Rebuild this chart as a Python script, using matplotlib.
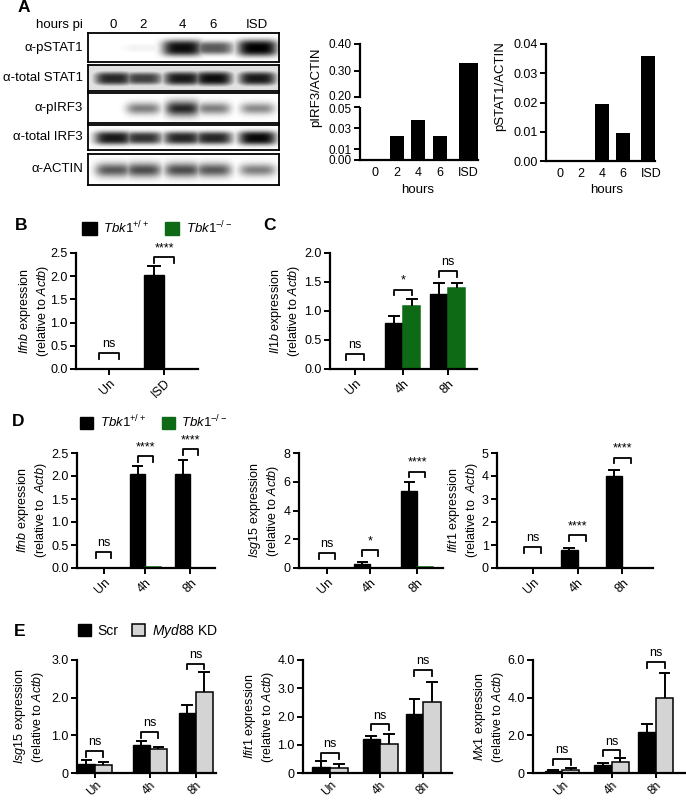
import numpy as np
import matplotlib
matplotlib.use('Agg')
import matplotlib.pyplot as plt
import matplotlib.transforms as mtransforms
from matplotlib import font_manager
from matplotlib.patches import Patch

# ---------------- data ----------------
# A: western blot, band strength per lane (0 = no band, 1 = saturated)
lanes = ['0', '2', '4', '6', 'ISD']
blot_rows = ['α-pSTAT1', 'α-total STAT1', 'α-pIRF3', 'α-total IRF3', 'α-ACTIN']
band_pstat1 = [0.0, 0.05, 0.95, 0.65, 1.0]
band_stat1 = [0.85, 0.75, 0.9, 0.95, 0.9]
band_pirf3 = [0.0, 0.5, 0.85, 0.5, 0.45]
band_irf3 = [0.9, 0.8, 0.85, 0.85, 0.97]
band_actin = [0.65, 0.7, 0.7, 0.65, 0.5]

# A: quantification
hours = ['0', '2', '4', '6', 'ISD']
pirf3_actin = [0.0, 0.023, 0.038, 0.023, 0.33]
pstat1_actin = [0.0, 0.0003, 0.0195, 0.0096, 0.036]

# B: Ifnb, Tbk1+/+ vs Tbk1-/-
b_groups = ['Un', 'ISD']
b_wt = [0.0, 2.03]
b_wt_sem = [0.0, 0.19]
b_ko = [0.0, 0.0]
b_ko_sem = [0.0, 0.0]
b_sig = ['ns', '****']
b_sig_y = [0.35, 2.41]

# C: Il1b
c_groups = ['Un', '4h', '8h']
c_wt = [0.0, 0.80, 1.30]
c_wt_sem = [0.0, 0.12, 0.19]
c_ko = [0.0, 1.09, 1.39]
c_ko_sem = [0.0, 0.11, 0.09]
c_sig = ['ns', '*', 'ns']
c_sig_y = [0.26, 1.37, 1.69]

# D: Tbk1+/+ vs Tbk1-/-
d_groups = ['Un', '4h', '8h']
d_ifnb_wt = [0.0, 2.04, 2.05]
d_ifnb_wt_sem = [0.0, 0.18, 0.30]
d_ifnb_ko = [0.0, 0.012, 0.008]
d_ifnb_ko_sem = [0.0, 0.0, 0.0]
d_ifnb_sig = ['ns', '****', '****']
d_ifnb_sig_y = [0.35, 2.43, 2.58]

d_isg15_wt = [0.0, 0.28, 5.36]
d_isg15_wt_sem = [0.0, 0.12, 0.62]
d_isg15_ko = [0.0, 0.0, 0.08]
d_isg15_ko_sem = [0.0, 0.0, 0.0]
d_isg15_sig = ['ns', '*', '****']
d_isg15_sig_y = [1.04, 1.25, 6.7]

d_ifit1_wt = [0.0, 0.78, 3.98]
d_ifit1_wt_sem = [0.0, 0.11, 0.30]
d_ifit1_ko = [0.02, 0.01, 0.01]
d_ifit1_ko_sem = [0.0, 0.0, 0.0]
d_ifit1_sig = ['ns', '****', '****']
d_ifit1_sig_y = [0.9, 1.43, 4.8]

# E: Scr vs Myd88 KD
e_groups = ['Un', '4h', '8h']
e_isg15_scr = [0.23, 0.74, 1.60]
e_isg15_scr_sem = [0.11, 0.10, 0.20]
e_isg15_kd = [0.21, 0.63, 2.15]
e_isg15_kd_sem = [0.08, 0.05, 0.52]
e_isg15_sig_y = [0.58, 1.08, 2.9]

e_ifit1_scr = [0.20, 1.20, 2.10]
e_ifit1_scr_sem = [0.22, 0.12, 0.52]
e_ifit1_kd = [0.19, 1.02, 2.53]
e_ifit1_kd_sem = [0.12, 0.36, 0.70]
e_ifit1_sig_y = [0.7, 1.72, 3.65]

e_mx1_scr = [0.08, 0.45, 2.18]
e_mx1_scr_sem = [0.10, 0.10, 0.43]
e_mx1_kd = [0.15, 0.60, 4.00]
e_mx1_kd_sem = [0.10, 0.20, 1.30]
e_mx1_sig_y = [0.75, 1.2, 5.9]
e_sig = ['ns', 'ns', 'ns']

# ---------------- fonts ----------------
installed = {f.name for f in font_manager.fontManager.ttflist}
BASE = 'Liberation Sans' if 'Liberation Sans' in installed else 'DejaVu Sans'
NARROW = 'Liberation Sans Narrow' if 'Liberation Sans Narrow' in installed else BASE

plt.rcParams['font.family'] = [BASE, 'DejaVu Sans']
plt.rcParams['mathtext.fontset'] = 'custom'
plt.rcParams['mathtext.rm'] = BASE
plt.rcParams['mathtext.it'] = BASE + ':italic'
plt.rcParams['mathtext.bf'] = BASE + ':bold'

GREEN = '#0e6a14'
GREY = '#d4d4d4'
W, H = 686, 800

fig = plt.figure(figsize=(W / 100, H / 100), dpi=100)


def px_axes(l, t, r, b):
    # axes placed by pixel box (left, top, right, bottom)
    return fig.add_axes([l / W, 1 - b / H, (r - l) / W, (b - t) / H])


def ftext(x, y, s, **kw):
    return fig.text(x / W, 1 - y / H, s, **kw)


def style(ax, fs, fam):
    for s in ['top', 'right']:
        ax.spines[s].set_visible(False)
    for s in ['left', 'bottom']:
        ax.spines[s].set_linewidth(1.6)
    ax.tick_params(width=1.4, length=4, labelsize=fs, pad=2, labelfontfamily=fam)


def up_errors(ax, xs, means, sems, cap):
    for x, m, s in zip(xs, means, sems):
        if s > 0:
            ax.plot([x, x], [m, m + s], color='k', lw=1.4, solid_capstyle='butt')
            ax.plot([x - cap, x + cap], [m + s, m + s], color='k', lw=1.4)


def bracket(ax, x1, x2, top, leg, label, fs, fam):
    ax.plot([x1, x1, x2, x2], [top - leg, top, top, top - leg], color='k', lw=1.3,
            clip_on=False)
    ax.text((x1 + x2) / 2, top + leg * 0.5, label, ha='center', va='bottom',
            fontsize=fs, family=fam, clip_on=False)


def grouped_panel(box, pos, xlim, ylim, yticks, ylabels, groups, m1, s1, m2, s2,
                  c2, e2, sig, sig_y, ylab, ylab_x, fam, fs, xfs=None):
    ax = px_axes(*box)
    pos = np.asarray(pos, dtype=float)
    bw = 1.0
    ax.bar(pos - bw / 2, m1, bw, color='k', edgecolor='k', lw=1.0)
    ax.bar(pos + bw / 2, m2, bw, color=c2, edgecolor=e2, lw=1.1)
    up_errors(ax, pos - bw / 2, m1, s1, 0.28)
    up_errors(ax, pos + bw / 2, m2, s2, 0.28)
    leg = ylim[1] * 0.05
    for x, t, lab in zip(pos, sig_y, sig):
        bracket(ax, x - bw / 2, x + bw / 2, t, leg, lab, fs, fam)
    ax.set_xlim(xlim)
    ax.set_ylim(ylim)
    ax.set_yticks(yticks, ylabels)
    ax.set_xticks(pos, groups, rotation=45, ha='right', rotation_mode='anchor')
    style(ax, fs, fam)
    if xfs is not None:
        ax.tick_params(axis='x', labelsize=xfs, pad=1, length=3.5)
    ftext(ylab_x, (box[1] + box[3]) / 2, ylab, rotation=90, ha='center', va='center',
          fontsize=fs, family=fam, linespacing=1.1)
    return ax


def ylab2(gene, sep=' '):
    return r'$\it{' + gene + r'}$ expression' + '\n' + r'(relative to' + sep + r'$\it{Actb}$)'


def nudge(label, dy_px):
    label.set_transform(label.get_transform()
                        + mtransforms.ScaledTranslation(0, dy_px / 100, fig.dpi_scale_trans))


# ---------------- A: blot ----------------
blot_left, blot_right = 88, 279
row_boxes = [(33, 62), (65, 91), (93, 123), (125, 150), (154, 185)]
row_bands = [band_pstat1, band_stat1, band_pirf3, band_irf3, band_actin]
row_bg = [0.0, 0.12, 0.0, 0.0, 0.0]
row_soft = [3, 3, 2, 3, 2]
row_halfw = [20, 19, 17, 19, 18]
lane_px = [25, 55, 94, 125, 169]

for (top, bot), vals, bg, soft, hw, name in zip(row_boxes, row_bands, row_bg,
                                                 row_soft, row_halfw, blot_rows):
    ax = px_axes(blot_left, top, blot_right, bot)
    wpx, hpx = blot_right - blot_left, bot - top
    xx = np.arange(wpx)[None, :]
    yy = np.arange(hpx)[:, None]
    img = np.full((hpx, wpx), bg)
    for c, v in zip(lane_px, vals):
        hh = hpx * 0.2 * (0.6 + 0.8 * v)
        blob = v * np.exp(-np.abs((xx - c) / hw) ** 4) * np.exp(-np.abs((yy - hpx / 2) / hh) ** soft)
        img = np.maximum(img, blob)
    ax.imshow(img, cmap='gray_r', vmin=0, vmax=1, aspect='auto', interpolation='bilinear')
    ax.set_xticks([])
    ax.set_yticks([])
    for s in ax.spines.values():
        s.set_linewidth(1.3)
    ftext(83, (top + bot) / 2, name, ha='right', va='center', fontsize=9.5)

ftext(83, 25, 'hours pi', ha='right', va='center', fontsize=9.5)
for c, lab in zip(lane_px, lanes):
    ftext(blot_left + c, 25, lab, ha='center', va='center', fontsize=9.5)

# ---------------- A: pIRF3/ACTIN (broken axis) ----------------
a_pos = np.array([0.7, 1.7, 2.7, 3.7, 5.0])
a_w = [0.65, 0.65, 0.65, 0.65, 0.88]

ax_lo = px_axes(360, 107, 478, 160)
ax_hi = px_axes(360, 44, 478, 107)
for ax in (ax_lo, ax_hi):
    ax.bar(a_pos, pirf3_actin, a_w, color='k')
    ax.set_xlim(0, 5.45)
    style(ax, 9, BASE)
ax_lo.set_ylim(0, 0.05)
ax_lo.set_yticks([0.0, 0.01, 0.03, 0.05], ['0.00', '0.01', '0.03', '0.05'])
ax_lo.set_xticks(a_pos, hours)
ax_lo.tick_params(axis='x', length=0, pad=5)
ax_lo.tick_params(axis='y', labelsize=8.5)
ax_hi.set_ylim(0.1623, 0.40)
ax_hi.spines['left'].set_bounds(0.20, 0.40)
ax_hi.spines['bottom'].set_visible(False)
ax_hi.set_yticks([0.20, 0.30, 0.40], ['0.20', '0.30', '0.40'])
ax_hi.set_xticks([])
ax_hi.tick_params(axis='y', labelsize=8.5)
# keep the two labels at the break apart
nudge(ax_hi.get_yticklabels()[0], 2)
nudge(ax_lo.get_yticklabels()[-1], -2)
ftext(316, 87, 'pIRF3/ACTIN', rotation=90, ha='center', va='center', fontsize=9.5)
ftext(418, 190, 'hours', ha='center', va='center', fontsize=9.5)

# ---------------- A: pSTAT1/ACTIN ----------------
ax = px_axes(546, 44, 655, 161)
ax.bar(a_pos - 0.05, pstat1_actin, a_w, color='k')
ax.set_xlim(0, 5.15)
ax.set_ylim(0, 0.04)
ax.set_yticks([0, 0.01, 0.02, 0.03, 0.04], ['0.00', '0.01', '0.02', '0.03', '0.04'])
ax.set_xticks(a_pos - 0.05, hours)
style(ax, 9, BASE)
ax.tick_params(axis='x', length=0, pad=5)
ftext(500, 86, 'pSTAT1/ACTIN', rotation=90, ha='center', va='center', fontsize=9.5)
ftext(607, 190, 'hours', ha='center', va='center', fontsize=9.5)

# ---------------- B ----------------
grouped_panel((76, 253, 198, 369), [1.65, 4.4], (0, 6.1), (0, 2.5),
              [0, 0.5, 1.0, 1.5, 2.0, 2.5], ['0.0', '0.5', '1.0', '1.5', '2.0', '2.5'],
              b_groups, b_wt, b_wt_sem, b_ko, b_ko_sem, GREEN, GREEN,
              b_sig, b_sig_y, ylab2('Ifnb'), 34, BASE, 9)

# ---------------- C ----------------
grouped_panel((330, 253, 477, 369), [1.43, 4.17, 6.74], (0, 8.4), (0, 2.0),
              [0, 0.5, 1.0, 1.5, 2.0], ['0.0', '0.5', '1.0', '1.5', '2.0'],
              c_groups, c_wt, c_wt_sem, c_ko, c_ko_sem, GREEN, GREEN,
              c_sig, c_sig_y, ylab2('Il1b'), 285, BASE, 9)

legend_tbk = [Patch(facecolor='k', edgecolor='k'), Patch(facecolor=GREEN, edgecolor=GREEN)]
legend_tbk_labels = [r'$\it{Tbk1}^{+/+}$', r'$\it{Tbk1}^{-/-}$']
fig.legend(legend_tbk, legend_tbk_labels, loc='center left', bbox_to_anchor=(82 / W, 1 - 228 / H),
           ncol=2, frameon=False, fontsize=9.5, handlelength=1.1, handleheight=1.1,
           handletextpad=0.5, columnspacing=1.2, borderpad=0, borderaxespad=0)

# ---------------- D ----------------
d_fs = 9
grouped_panel((77, 453, 215, 568), [1.75, 4.45, 7.4], (0, 9.0), (0, 2.5),
              [0, 0.5, 1.0, 1.5, 2.0, 2.5], ['0.0', '0.5', '1.0', '1.5', '2.0', '2.5'],
              d_groups, d_ifnb_wt, d_ifnb_wt_sem, d_ifnb_ko, d_ifnb_ko_sem, GREEN, GREEN,
              d_ifnb_sig, d_ifnb_sig_y, ylab2('Ifnb', '  '), 32, NARROW, d_fs)
grouped_panel((299, 453, 443, 568), [1.75, 4.45, 7.4], (0, 9.0), (0, 8),
              [0, 2, 4, 6, 8], ['0', '2', '4', '6', '8'],
              d_groups, d_isg15_wt, d_isg15_wt_sem, d_isg15_ko, d_isg15_ko_sem, GREEN, GREEN,
              d_isg15_sig, d_isg15_sig_y, ylab2('Isg15'), 264, NARROW, d_fs)
grouped_panel((497, 453, 653, 568), [2.1, 4.76, 7.4], (0, 9.2), (0, 5),
              [0, 1, 2, 3, 4, 5], ['0', '1', '2', '3', '4', '5'],
              d_groups, d_ifit1_wt, d_ifit1_wt_sem, d_ifit1_ko, d_ifit1_ko_sem, GREEN, GREEN,
              d_ifit1_sig, d_ifit1_sig_y, ylab2('Ifit1', '  '), 463, NARROW, d_fs)

fig.legend(legend_tbk, legend_tbk_labels, loc='center left', bbox_to_anchor=(80 / W, 1 - 422 / H),
           ncol=2, frameon=False, handlelength=1.0, handleheight=1.0,
           handletextpad=0.5, columnspacing=1.2, borderpad=0, borderaxespad=0,
           prop={'family': NARROW, 'size': 9.5})

# ---------------- E ----------------
grouped_panel((77, 660, 216, 773), [1.06, 4.3, 7.0], (0, 8.2), (0, 3.0),
              [0, 1, 2, 3], ['0', '1.0', '2.0', '3.0'],
              e_groups, e_isg15_scr, e_isg15_scr_sem, e_isg15_kd, e_isg15_kd_sem, GREY, 'k',
              e_sig, e_isg15_sig_y, ylab2('Isg15'), 29, NARROW, d_fs, 8.5)
grouped_panel((303, 660, 452, 773), [1.54, 4.4, 6.86], (0, 8.5), (0, 4.0),
              [0, 1, 2, 3, 4], ['0', '1.0', '2.0', '3.0', '4.0'],
              e_groups, e_ifit1_scr, e_ifit1_scr_sem, e_ifit1_kd, e_ifit1_kd_sem, GREY, 'k',
              e_sig, e_ifit1_sig_y, ylab2('Ifit1'), 259, NARROW, d_fs, 8.5)
grouped_panel((533, 660, 685, 773), [1.66, 4.5, 7.03], (0, 8.7), (0, 6.0),
              [0, 2, 4, 6], ['0', '2.0', '4.0', '6.0'],
              e_groups, e_mx1_scr, e_mx1_scr_sem, e_mx1_kd, e_mx1_kd_sem, GREY, 'k',
              e_sig, e_mx1_sig_y, ylab2('Mx1'), 489, NARROW, d_fs, 8.5)

legend_e = [Patch(facecolor='k', edgecolor='k'), Patch(facecolor=GREY, edgecolor='k', lw=1.1)]
fig.legend(legend_e, ['Scr', r'$\it{Myd88}$ KD'], loc='center left',
           bbox_to_anchor=(78 / W, 1 - 631 / H), ncol=2, frameon=False,
           handlelength=0.9, handleheight=1.0, handletextpad=0.5, columnspacing=1.0,
           borderpad=0, borderaxespad=0, prop={'family': NARROW, 'size': 10})

# ---------------- panel letters ----------------
ftext(18, 8, 'A', ha='left', va='center', fontsize=12.5, weight='bold')
ftext(15, 226, 'B', ha='left', va='center', fontsize=12.5, weight='bold')
ftext(263, 226, 'C', ha='left', va='center', fontsize=12.5, weight='bold')
ftext(12, 422, 'D', ha='left', va='center', fontsize=12.5, weight='bold', family=NARROW)
ftext(14, 632, 'E', ha='left', va='center', fontsize=12.5, weight='bold', family=NARROW)

fig.savefig('out.png', dpi=100)
